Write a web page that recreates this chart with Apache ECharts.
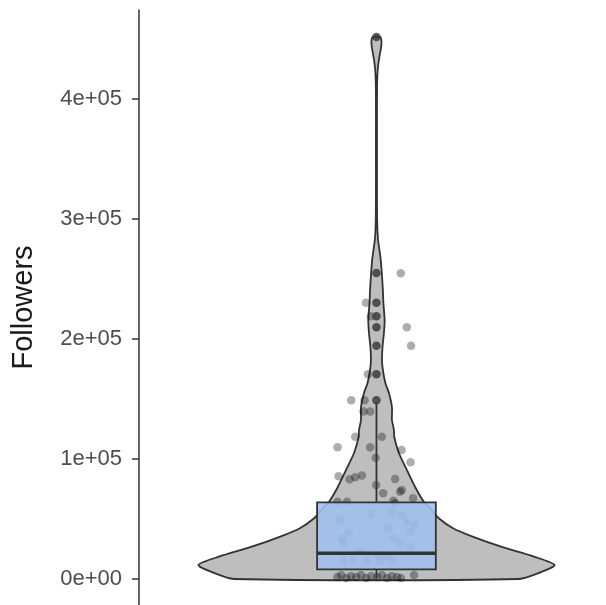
<!DOCTYPE html>
<html>
<head>
<meta charset="utf-8">
<script src="https://cdn.jsdelivr.net/npm/echarts@6/dist/echarts.min.js"></script>
<style>
html,body{margin:0;padding:0;background:#fff;}
#chart{width:606px;height:605px;}
</style>
</head>
<body>
<div id="chart"></div>
<script>
// ---- data ----
const tickValues = [0, 100000, 200000, 300000, 400000];
const tickLabels = ['0e+00', '1e+05', '2e+05', '3e+05', '4e+05'];

// violin outline: value and normalised density (1 = widest)
const violinValues = [0, 6100, 11700, 18600, 26900, 35300, 42300, 50600, 57500, 64400, 76700, 90800, 105000, 118300, 124200, 132500, 143300, 155000, 163300, 174200, 182500, 193300, 205000, 215800, 230000, 240800, 255000, 266000, 275000, 282500, 295000, 315800, 360000, 399200, 415000, 424200, 432000, 438000, 444000, 448500, 451700];
const violinDensity = [0.80, 0.93, 1.00, 0.885, 0.70, 0.54, 0.43, 0.35, 0.31, 0.266, 0.217, 0.171, 0.126, 0.100, 0.098, 0.087, 0.087, 0.070, 0.050, 0.036, 0.031, 0.034, 0.042, 0.046, 0.039, 0.036, 0.030, 0.024, 0.016, 0.009, 0.0045, 0.003, 0.003, 0.003, 0.004, 0.007, 0.013, 0.020, 0.027, 0.028, 0.022];

// box stats: lower whisker, Q1, median, Q3, upper whisker
const boxStats = [300, 8100, 21400, 63900, 147000];
const outlierValues = [148900, 170600, 194400, 209700, 218900, 230200, 255000, 451700];

// jittered observations
const jitterX = [1.0615, 0.9733, 0.9859, 1.0766, 1.0874, 0.9783, 0.9363, 0.9698, 0.9673, 0.9841, 0.9463, 1.0136, 0.9018, 0.9841, 1.0635, 0.998, 1.0861, 0.9043, 0.932, 0.9463, 0.9632, 1.0471, 0.9992, 1.0169, 1.064, 1.0924, 1.0428, 0.9018, 0.9254, 1.0597, 1.0471, 0.9866, 1.0388, 1.064, 0.9086, 1.0766, 1.0302, 0.9295, 0.9128, 1.0975, 1.0849, 1.0428, 1.0597, 0.9169, 1.0849, 0.9589, 1.001, 1.0262, 0.9169, 0.9421, 0.9758, 1.0093, 1.0428, 0.901, 0.911, 0.924, 0.936, 0.949, 0.961, 0.974, 0.987, 1.002, 1.014, 1.027, 1.039, 1.052, 1.062, 1.095];
const jitterY = [254750, 230250, 218900, 209750, 194400, 170600, 148900, 148900, 139600, 139600, 118600, 118600, 109750, 109750, 107500, 101100, 97250, 85600, 83200, 84750, 86250, 83300, 78300, 71400, 74200, 67250, 65250, 64400, 64400, 72750, 63100, 54200, 56100, 53300, 49200, 47750, 42250, 38600, 33900, 45000, 39400, 33900, 29750, 29750, 26900, 24200, 20000, 18600, 14400, 15800, 14400, 14400, 15800, 1700, 3300, 800, 2500, 1700, 3300, 800, 2500, 1700, 3300, 800, 2500, 1700, 800, 3300];

// ---- chart ----
const center = 1;
const violinHalf = 0.45;
const boxHalf = 0.15;
const lineColor = '#333333';

const chart = echarts.init(document.getElementById('chart'), null, {renderer: 'canvas'});

const violinSeries = {
  type: 'custom',
  z: 1,
  silent: true,
  data: [[center, 0]],
  renderItem: function (params, api) {
    const left = [], right = [];
    for (let i = 0; i < violinValues.length; i++) {
      const w = violinDensity[i] * violinHalf;
      left.push(api.coord([center - w, violinValues[i]]));
      right.push(api.coord([center + w, violinValues[i]]));
    }
    const pts = left.concat(right.reverse());
    return {
      type: 'polygon',
      shape: {points: pts, smooth: 0.25},
      style: {fill: '#bebebe', stroke: lineColor, lineWidth: 1.8}
    };
  }
};

const jitterData = jitterX.map((x, i) => [x, jitterY[i]]);
const jitterSeries = {
  type: 'scatter',
  z: 2,
  silent: true,
  symbolSize: 8.5,
  data: jitterData,
  itemStyle: {color: 'rgba(0,0,0,0.4)'}
};

const boxSeries = {
  type: 'custom',
  z: 3,
  silent: true,
  data: [[center, boxStats[2]]],
  renderItem: function (params, api) {
    const lw = api.coord([center, boxStats[0]]);
    const q1l = api.coord([center - boxHalf, boxStats[1]]);
    const q3r = api.coord([center + boxHalf, boxStats[3]]);
    const medL = api.coord([center - boxHalf, boxStats[2]]);
    const medR = api.coord([center + boxHalf, boxStats[2]]);
    const q1c = api.coord([center, boxStats[1]]);
    const q3c = api.coord([center, boxStats[3]]);
    const uw = api.coord([center, boxStats[4]]);
    return {
      type: 'group',
      children: [
        {type: 'line', shape: {x1: q3c[0], y1: q3c[1], x2: uw[0], y2: uw[1]}, style: {stroke: lineColor, lineWidth: 1.8}},
        {type: 'line', shape: {x1: q1c[0], y1: q1c[1], x2: lw[0], y2: lw[1]}, style: {stroke: lineColor, lineWidth: 1.8}},
        {type: 'rect', shape: {x: q1l[0], y: q3r[1], width: q3r[0] - q1l[0], height: q1l[1] - q3r[1]},
          style: {fill: 'rgba(160,192,238,0.88)', stroke: lineColor, lineWidth: 1.8}},
        {type: 'line', shape: {x1: medL[0], y1: medL[1], x2: medR[0], y2: medR[1]}, style: {stroke: lineColor, lineWidth: 3.5}}
      ]
    };
  }
};

const outlierSeries = {
  type: 'scatter',
  z: 4,
  silent: true,
  symbolSize: 8.5,
  data: outlierValues.map(v => [center, v]),
  itemStyle: {color: '#333333'}
};

chart.setOption({
  animation: false,
  backgroundColor: '#ffffff',
  grid: {left: 139, top: 10, right: 0, bottom: 0, containLabel: false},
  xAxis: {
    type: 'value', min: 0.4, max: 1.58, show: false
  },
  yAxis: {
    type: 'value',
    min: -21667,
    max: 474167,
    name: 'Followers',
    nameLocation: 'middle',
    nameGap: 101,
    nameRotate: 90,
    nameTextStyle: {fontFamily: 'Liberation Sans', fontSize: 29, color: '#1a1a1a'},
    axisLine: {show: true, lineStyle: {color: '#333333', width: 1.5}},
    axisTick: {show: true, length: 7, lineStyle: {color: '#333333', width: 1.5}, customValues: tickValues},
    axisLabel: {
      show: true, margin: 17, fontFamily: 'Liberation Sans', fontSize: 22, color: '#4d4d4d',
      customValues: tickValues,
      formatter: function (v) {
        const i = tickValues.indexOf(v);
        return i >= 0 ? tickLabels[i] : '';
      }
    },
    splitLine: {show: false}
  },
  series: [violinSeries, jitterSeries, boxSeries, outlierSeries]
});
</script>
</body>
</html>
